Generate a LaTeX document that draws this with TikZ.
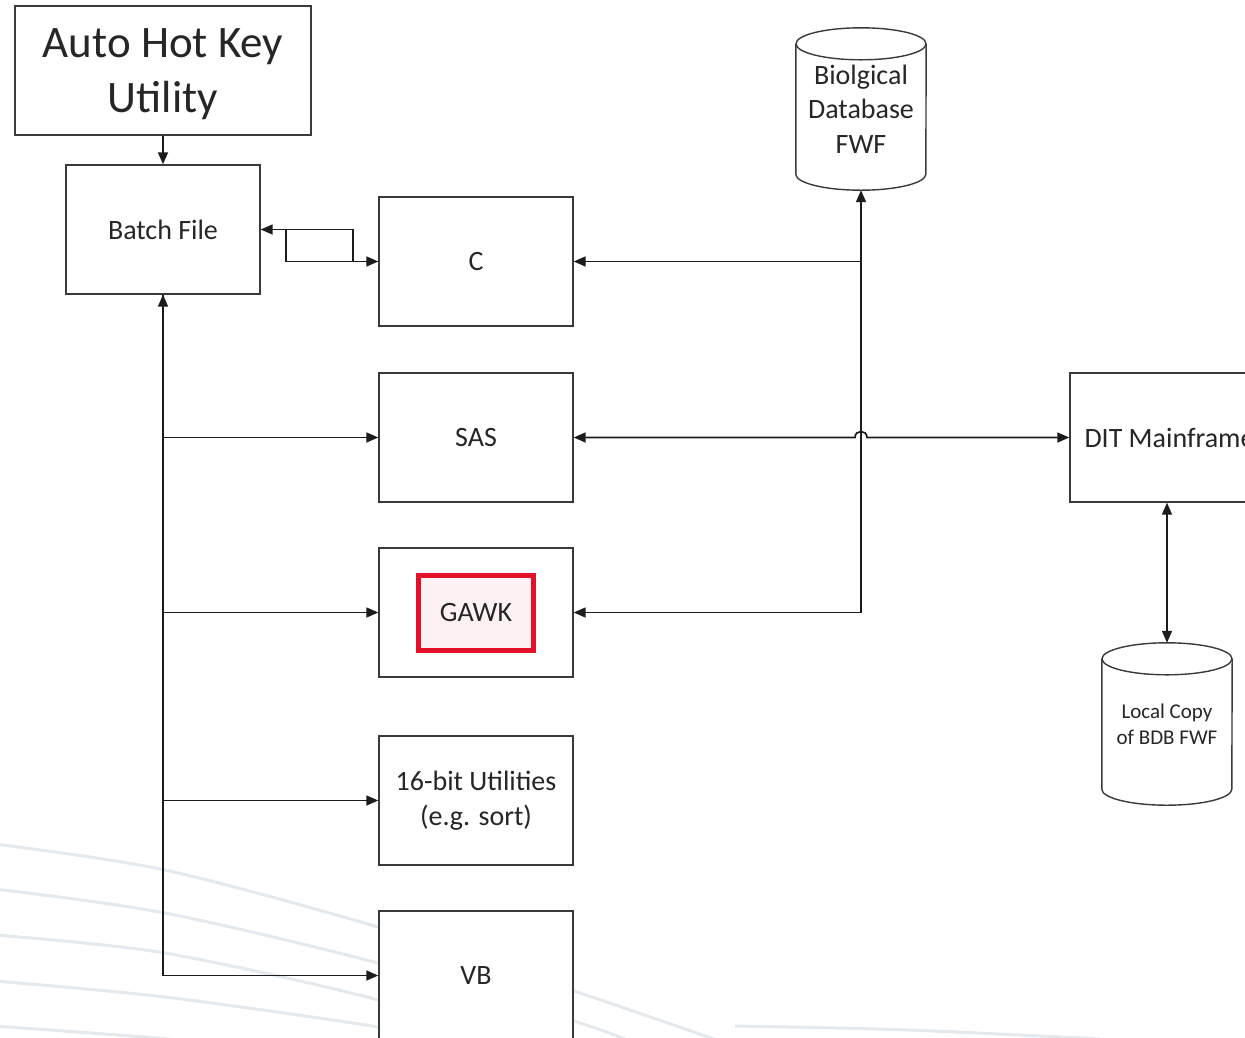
\documentclass[tikz,border=0pt]{standalone}
\usepackage{fontspec}
\setmainfont{Carlito}
\usetikzlibrary{arrows.meta,calc}
\definecolor{bgline}{HTML}{E4E9EE}
\definecolor{edge}{HTML}{3A3A3A}
\definecolor{wire}{HTML}{1C1C1C}
\definecolor{txt}{HTML}{262626}
\definecolor{hlred}{HTML}{E3122A}
\definecolor{hlfill}{HTML}{FDF1F3}
\begin{document}
\begin{tikzpicture}[x=1pt,y=-1pt,
  box/.style={draw=edge, line width=1.4pt, fill=white, minimum width=194pt, minimum height=129pt,
    align=center, text=txt, font=\fontsize{28}{35}\selectfont, inner sep=0pt},
  cyltext/.style={minimum width=130pt, align=center, text=txt, inner sep=0pt},
  cylline/.style={draw=edge, line width=1.4pt},
  conn/.style={draw=wire, line width=1.7pt, -{Triangle[length=12pt,width=10pt]}},
  dconn/.style={draw=wire, line width=1.7pt, {Triangle[length=12pt,width=10pt]}-{Triangle[length=12pt,width=10pt]}},
  bgc/.style={draw=bgline, line width=3pt}
]
\path[use as bounding box, clip] (0,0) rectangle (1245,1037);
\fill[white] (0,0) rectangle (1245,1037);

% background curves
\draw[bgc] plot[smooth] coordinates {(-5,844) (165,870) (378,927) (574,991) (720,1041)};
\draw[bgc] plot[smooth] coordinates {(-5,889) (165,913) (378,963) (574,1021) (640,1045)};
\draw[bgc] plot[smooth] coordinates {(-5,935) (165,953) (378,1000) (480,1040)};
\draw[bgc] plot[smooth] coordinates {(-5,981) (165,997) (378,1027) (420,1040)};
\draw[bgc] plot[smooth] coordinates {(-5,1026) (145,1037) (200,1042)};
\draw[bgc] (735,1026) .. controls (900,1029) .. (1100,1039);

% nodes
\node[box, minimum width=296pt, font=\fontsize{45}{55}\selectfont] (ahk) at (163,70.5) {\raisebox{-4pt}[\height][\depth]{\parbox{290pt}{\centering Auto Hot Key\\Utility}}};
\node[box] (batch) at (163,229.5) {Batch File};
\node[box] (c) at (476,261.5) {C};
\node[box] (sas) at (476,437.5) {SAS};
\node[box] (gawk) at (476,612.5) {};
\node[draw=hlred, line width=5pt, fill=hlfill, minimum width=115pt, minimum height=75pt, inner sep=0pt,
  text=txt, font=\fontsize{28}{35}\selectfont] (gawkhl) at (gawk.center) {GAWK};
\node[box] (util) at (476,800.5) {16-bit Utilities\\(e.g. sort)};
\node[box] (vb) at (476,975.5) {VB};
\node[box] (dit) at (1167,437.5) {\hspace*{5pt}DIT Mainframe};

% cylinders
\node[cyltext, minimum height=162pt, font=\fontsize{28}{34.5}\selectfont] (bdb) at (861,109) {Biolgical\\Database\\FWF};
\draw[cylline] ([yshift=-16pt]bdb.north west) -- ([yshift=16pt]bdb.south west)
  arc[start angle=180, end angle=360, x radius=65pt, y radius=16pt]
  -- ([yshift=-16pt]bdb.north east);
\draw[cylline] ([yshift=-16pt]bdb.north) ellipse [x radius=65pt, y radius=16pt];

\node[cyltext, minimum height=162pt, font=\fontsize{21}{26}\selectfont] (loc) at (1167,724) {Local Copy\\of BDB FWF};
\draw[cylline] ([yshift=-16pt]loc.north west) -- ([yshift=16pt]loc.south west)
  arc[start angle=180, end angle=360, x radius=65pt, y radius=16pt]
  -- ([yshift=-16pt]loc.north east);
\draw[cylline] ([yshift=-16pt]loc.north) ellipse [x radius=65pt, y radius=16pt];

% connectors
\draw[conn] (ahk.south) -- (batch.north);
\draw[conn] (batch.east) -- ++(25,0) |- (c.west);
\draw[conn] (c.west) -- ++(-25,0) |- (batch.east);

\draw[conn] (batch.south) |- (sas.west);
\draw[conn] (batch.south) |- (gawk.west);
\draw[conn] (batch.south) |- (util.west);
\draw[dconn] (batch.south) |- (vb.west);

\draw[dconn] (gawk.east) -| (bdb.south);
\draw[conn] (bdb.south |- c.east) -- (c.east);

\coordinate (hop) at (bdb.south |- sas.east);
\draw[dconn] (sas.east) -- ([xshift=-6pt]hop)
  .. controls ([xshift=-6pt,yshift=8pt]hop) and ([xshift=6pt,yshift=8pt]hop) .. ([xshift=6pt]hop)
  -- (dit.west);

\draw[dconn] (dit.south) -- (loc.north);
\end{tikzpicture}
\end{document}
